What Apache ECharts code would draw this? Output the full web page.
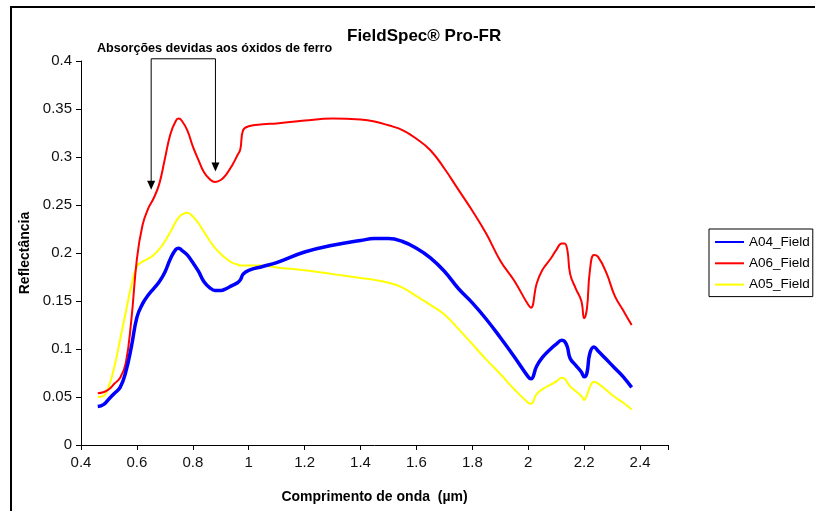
<!DOCTYPE html>
<html>
<head>
<meta charset="utf-8">
<title>FieldSpec Pro-FR</title>
<script src="https://cdn.jsdelivr.net/npm/echarts@6/dist/echarts.min.js"></script>
<style>
  html, body { margin: 0; padding: 0; background: #fff; }
  #chart { width: 815px; height: 511px; }
</style>
</head>
<body>
<div id="chart"></div>
<script>
// Wavelengths (µm) shared by the three spectra
const wavelength = [
  0.46, 0.48, 0.50, 0.52, 0.54, 0.56, 0.58, 0.60, 0.62, 0.64, 0.66, 0.68, 0.70, 0.72, 0.74,
  0.75,
  0.76, 0.78, 0.80, 0.82, 0.84, 0.86, 0.88, 0.90, 0.92, 0.94, 0.96,
  0.97, 0.98, 1.00,
  1.05, 1.10,
  1.20, 1.30, 1.40,
  1.45, 1.50, 1.55, 1.60, 1.65, 1.70, 1.75, 1.80, 1.85, 1.90, 1.95, 2.00,
  2.01, 2.03, 2.05, 2.08, 2.10, 2.12, 2.13, 2.14, 2.15, 2.17, 2.19, 2.20, 2.21, 2.22, 2.235, 2.25, 2.28, 2.31, 2.34, 2.37
];

// Reflectance of each sample
const a04Field = [
  0.040, 0.042, 0.048, 0.054, 0.060, 0.076, 0.102, 0.133, 0.147, 0.156, 0.163, 0.170, 0.180, 0.194, 0.204,
  0.205,
  0.203, 0.198, 0.190, 0.181, 0.170, 0.164, 0.161, 0.161, 0.163, 0.166, 0.169,
  0.172, 0.178, 0.182,
  0.186, 0.190,
  0.201, 0.208, 0.213,
  0.215, 0.215, 0.212, 0.205, 0.195, 0.181, 0.163, 0.148, 0.131, 0.112, 0.092, 0.071,
  0.069, 0.082, 0.091, 0.100, 0.105, 0.109, 0.108, 0.102, 0.090, 0.083, 0.076, 0.071, 0.075, 0.095, 0.102, 0.098, 0.089, 0.080, 0.071, 0.060
];
const a06Field = [
  0.054, 0.055, 0.058, 0.064, 0.070, 0.085, 0.130, 0.194, 0.229, 0.246, 0.257, 0.272, 0.298, 0.324, 0.338,
  0.340,
  0.338, 0.328, 0.311, 0.297, 0.284, 0.277, 0.274, 0.276, 0.282, 0.291, 0.302,
  0.308, 0.328, 0.332,
  0.334, 0.335,
  0.338, 0.340, 0.339,
  0.337, 0.333, 0.328, 0.319, 0.307, 0.288, 0.266, 0.244, 0.220, 0.192, 0.171, 0.146,
  0.143, 0.168, 0.182, 0.194, 0.203, 0.210, 0.210, 0.203, 0.178, 0.163, 0.150, 0.132, 0.142, 0.180, 0.198, 0.196, 0.179, 0.155, 0.140, 0.125
];
const a05Field = [
  0.050, 0.051, 0.062, 0.082, 0.110, 0.138, 0.166, 0.186, 0.191, 0.194, 0.198, 0.204, 0.212, 0.222, 0.233,
  0.237,
  0.240, 0.242, 0.238, 0.231, 0.222, 0.213, 0.205, 0.199, 0.194, 0.190, 0.188,
  0.187, 0.187, 0.187,
  0.187, 0.185,
  0.182, 0.178, 0.174,
  0.172, 0.169, 0.164, 0.155, 0.146, 0.136, 0.121, 0.105, 0.089, 0.074, 0.058, 0.044,
  0.043, 0.053, 0.058, 0.063, 0.066, 0.070, 0.069, 0.065, 0.061, 0.056, 0.051, 0.047, 0.052, 0.060, 0.066, 0.064, 0.057, 0.050, 0.044, 0.037
];

const seriesNames = ['A04_Field', 'A06_Field', 'A05_Field'];
const titleText = 'FieldSpec® Pro-FR';
const noteText = 'Absorções devidas aos óxidos de ferro';
const xName = 'Comprimento de onda  (µm)';
const yName = 'Reflectância';

const FONT = '"Liberation Sans", Arial, Helvetica, sans-serif';

function pair(values) {
  return wavelength.map((w, i) => [w, values[i]]);
}
function fmt(v) {
  return String(parseFloat(v.toFixed(2)));
}

const chart = echarts.init(document.getElementById('chart'));

chart.setOption({
  backgroundColor: '#fff',
  animation: false,
  textStyle: { fontFamily: FONT },
  title: {
    text: titleText,
    left: 347,
    top: 28,
    padding: 0,
    textStyle: { fontFamily: FONT, fontSize: 17, fontWeight: 'bold', color: '#000' }
  },
  legend: {
    data: seriesNames,
    orient: 'vertical',
    left: 709,
    top: 229,
    padding: [6, 3, 5, 5],
    itemWidth: 29,
    itemHeight: 14,
    itemGap: 7.3,
    borderColor: '#000',
    borderWidth: 1,
    // plain line keys: hide the marker drawn on top of each line
    itemStyle: { color: 'rgba(0,0,0,0)', borderColor: 'rgba(0,0,0,0)', borderWidth: 0 },
    textStyle: { fontFamily: FONT, fontSize: 13.5, color: '#000' }
  },
  grid: { left: 81, top: 61, right: 147, bottom: 66, containLabel: false },
  xAxis: {
    type: 'value',
    min: 0.4,
    max: 2.5,
    interval: 0.2,
    name: xName,
    nameLocation: 'middle',
    nameGap: 45,
    nameTextStyle: { fontFamily: FONT, fontSize: 14, fontWeight: 'bold', color: '#000' },
    axisLine: { lineStyle: { color: '#000', width: 1 } },
    axisTick: { show: true, inside: false, length: 5, lineStyle: { color: '#000' } },
    axisLabel: {
      margin: 10,
      fontFamily: FONT,
      fontSize: 15,
      color: '#111',
      formatter: v => (v > 2.45 ? '' : fmt(v))
    },
    splitLine: { show: false }
  },
  yAxis: {
    type: 'value',
    min: 0,
    max: 0.4,
    interval: 0.05,
    name: yName,
    nameLocation: 'middle',
    nameGap: 47,
    nameRotate: 90,
    nameTextStyle: { fontFamily: FONT, fontSize: 14, fontWeight: 'bold', color: '#000' },
    axisLine: { show: true, lineStyle: { color: '#000', width: 1 } },
    axisTick: { show: true, inside: false, length: 5, lineStyle: { color: '#000' } },
    axisLabel: { margin: 9, fontFamily: FONT, fontSize: 15, color: '#111', formatter: fmt },
    splitLine: { show: false }
  },
  series: [
    {
      name: seriesNames[0], type: 'line', data: pair(a04Field), z: 3,
      symbol: 'none', showSymbol: false, smooth: 0.45,
      lineStyle: { color: '#0000ff', width: 3.5 }, itemStyle: { color: '#0000ff' }
    },
    {
      name: seriesNames[1], type: 'line', data: pair(a06Field), z: 2,
      symbol: 'none', showSymbol: false, smooth: 0.45,
      lineStyle: { color: '#ff0000', width: 2 }, itemStyle: { color: '#ff0000' }
    },
    {
      name: seriesNames[2], type: 'line', data: pair(a05Field), z: 1,
      symbol: 'none', showSymbol: false, smooth: 0.45,
      lineStyle: { color: '#ffff00', width: 2 }, itemStyle: { color: '#ffff00' }
    }
  ]
});

// Bracket with two arrows pointing at the iron-oxide absorption features
const arrowTips = [[0.651, 0.266], [0.881, 0.285]];
const bracketTop = 0.4023;

function drawNote() {
  const toPx = p => chart.convertToPixel({ gridIndex: 0 }, p);
  const l = toPx(arrowTips[0]);
  const r = toPx(arrowTips[1]);
  const topY = toPx([arrowTips[0][0], bracketTop])[1];
  const head = (tip) => ({
    type: 'polygon',
    shape: { points: [[tip[0], tip[1]], [tip[0] - 4, tip[1] - 9], [tip[0] + 4, tip[1] - 9]] },
    style: { fill: '#000' },
    silent: true
  });
  chart.setOption({
    graphic: [
      {
        type: 'rect',
        shape: { x: 11, y: 7, width: 900, height: 600 },
        style: { fill: 'none', stroke: '#000', lineWidth: 2 },
        silent: true, z: 100
      },
      {
        type: 'text',
        left: 97,
        top: 42,
        style: { text: noteText, fontFamily: FONT, fontSize: 12.6, fontWeight: 'bold', fill: '#000' },
        silent: true
      },
      {
        type: 'polyline',
        shape: { points: [[l[0], l[1] - 8], [l[0], topY], [r[0], topY], [r[0], r[1] - 8]] },
        style: { stroke: '#000', lineWidth: 1, fill: null },
        silent: true
      },
      head(l),
      head(r)
    ]
  });
}
drawNote();
</script>
</body>
</html>
